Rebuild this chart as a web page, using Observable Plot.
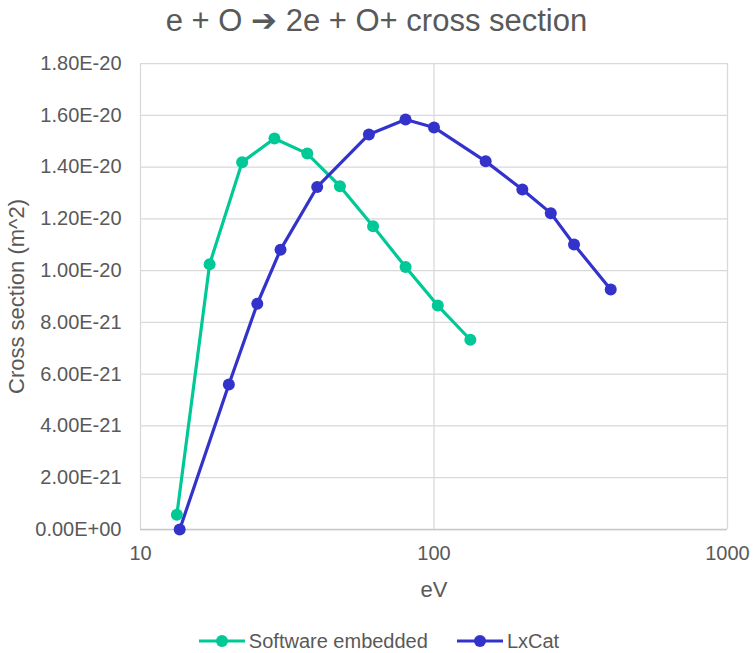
<!DOCTYPE html>
<html>
<head>
<meta charset="utf-8">
<script src="https://cdn.jsdelivr.net/npm/d3@7"></script>
<script src="https://cdn.jsdelivr.net/npm/@observablehq/plot@0.6"></script>
<style>
  html, body { margin: 0; padding: 0; background: #ffffff; }
  body { width: 753px; height: 653px; overflow: hidden; font-family: "Liberation Sans", Arial, sans-serif; color: #595959; }
  #title { height: 44px; line-height: 42px; font-size: 31px; text-align: center; white-space: nowrap; }
  #chart svg { display: block; }
  #legend { position: relative; height: 41px; display: flex; justify-content: center; gap: 29px; padding-left: 5px; box-sizing: border-box; }
  .item { margin-top: 19px; height: 20px; line-height: 20px; font-size: 20px; display: flex; align-items: center; white-space: nowrap; }
  .item svg { display: block; margin-right: 4px; }
</style>
</head>
<body>
<div id="title">e + O ➔ 2e + O+ cross section</div>
<div id="chart"></div>
<div id="legend"></div>
<script>
// Electron-impact ionization of atomic oxygen: cross section (m^2) versus electron energy (eV)
const seriesNames = ["Software embedded", "LxCat"];
const seriesColors = ["#00c896", "#3333cc"];

const energyEmbedded = [13.3, 17.2, 22.2, 28.6, 37, 47.8, 62, 80, 103, 133];
const sigmaEmbedded = [5.7e-22, 1.025e-20, 1.419e-20, 1.51e-20, 1.452e-20, 1.326e-20, 1.171e-20, 1.014e-20, 8.65e-21, 7.33e-21];

const energyLxCat = [13.6, 20, 25, 30, 40, 60, 80, 100, 150, 200, 250, 300, 400];
const sigmaLxCat = [0, 5.6e-21, 8.72e-21, 1.081e-20, 1.323e-20, 1.526e-20, 1.584e-20, 1.553e-20, 1.422e-20, 1.313e-20, 1.222e-20, 1.101e-20, 9.27e-21];

const xTicks = [10, 100, 1000];
const yTicks = [0, 2e-21, 4e-21, 6e-21, 8e-21, 1e-20, 1.2e-20, 1.4e-20, 1.6e-20, 1.8e-20];

const rows = [
  ...energyEmbedded.map((e, i) => ({series: seriesNames[0], energy: e, sigma: sigmaEmbedded[i]})),
  ...energyLxCat.map((e, i) => ({series: seriesNames[1], energy: e, sigma: sigmaLxCat[i]}))
];

// Spreadsheet-style scientific notation: 1.80E-20, 0.00E+00
function sci(v) {
  const [m, e] = v.toExponential(2).split("e");
  const n = Math.abs(+e);
  return `${m}E${+e < 0 ? "-" : "+"}${String(n).padStart(2, "0")}`;
}

const chart = Plot.plot({
  width: 753,
  height: 568,
  marginLeft: 140,
  marginRight: 26,
  marginTop: 19,
  marginBottom: 83,
  style: {fontFamily: "'Liberation Sans', Arial, sans-serif", color: "#595959", background: "#ffffff", overflow: "visible"},
  x: {type: "log", domain: [10, 1000]},
  y: {domain: [0, 1.8e-20]},
  color: {domain: seriesNames, range: seriesColors},
  marks: [
    Plot.gridY(yTicks, {stroke: "#d9d9d9", strokeOpacity: 1, strokeWidth: 1.25}),
    Plot.gridX(xTicks, {stroke: "#d9d9d9", strokeOpacity: 1, strokeWidth: 1.25}),
    Plot.ruleY([0], {stroke: "#c8c8c8", strokeWidth: 1.3}),
    Plot.axisY(yTicks, {
      tickSize: 0, tickPadding: 19, tickFormat: sci, fontSize: 20, fill: "#595959",
      label: "Cross section (m^2)", labelAnchor: "center", labelArrow: "none", labelOffset: 132
    }),
    Plot.axisX(xTicks, {
      tickSize: 0, tickPadding: 16, tickFormat: d => String(d), fontSize: 20, fill: "#595959",
      label: null
    }),
    Plot.axisX([], {
      fontSize: 22, fill: "#595959",
      label: "eV", labelAnchor: "center", labelArrow: "none", labelOffset: 67
    }),
    Plot.line(rows, {x: "energy", y: "sigma", z: "series", stroke: "series", strokeWidth: 3.2}),
    Plot.dot(rows, {x: "energy", y: "sigma", fill: "series", r: 6})
  ]
});

// y-axis title is drawn larger than the tick labels
chart.querySelectorAll("[aria-label='y-axis label'] text, [aria-label='y-axis label']").forEach(el => el.setAttribute("font-size", 22));
document.getElementById("chart").appendChild(chart);

// Legend below the chart
const legend = document.getElementById("legend");
seriesNames.forEach((name, i) => {
  const item = document.createElement("div");
  item.className = "item";
  item.innerHTML = `<svg width="46" height="14"><line x1="0" y1="7" x2="46" y2="7" stroke="${seriesColors[i]}" stroke-width="3.2"/><circle cx="23" cy="7" r="6" fill="${seriesColors[i]}"/></svg><span>${name}</span>`;
  legend.appendChild(item);
});
</script>
</body>
</html>
